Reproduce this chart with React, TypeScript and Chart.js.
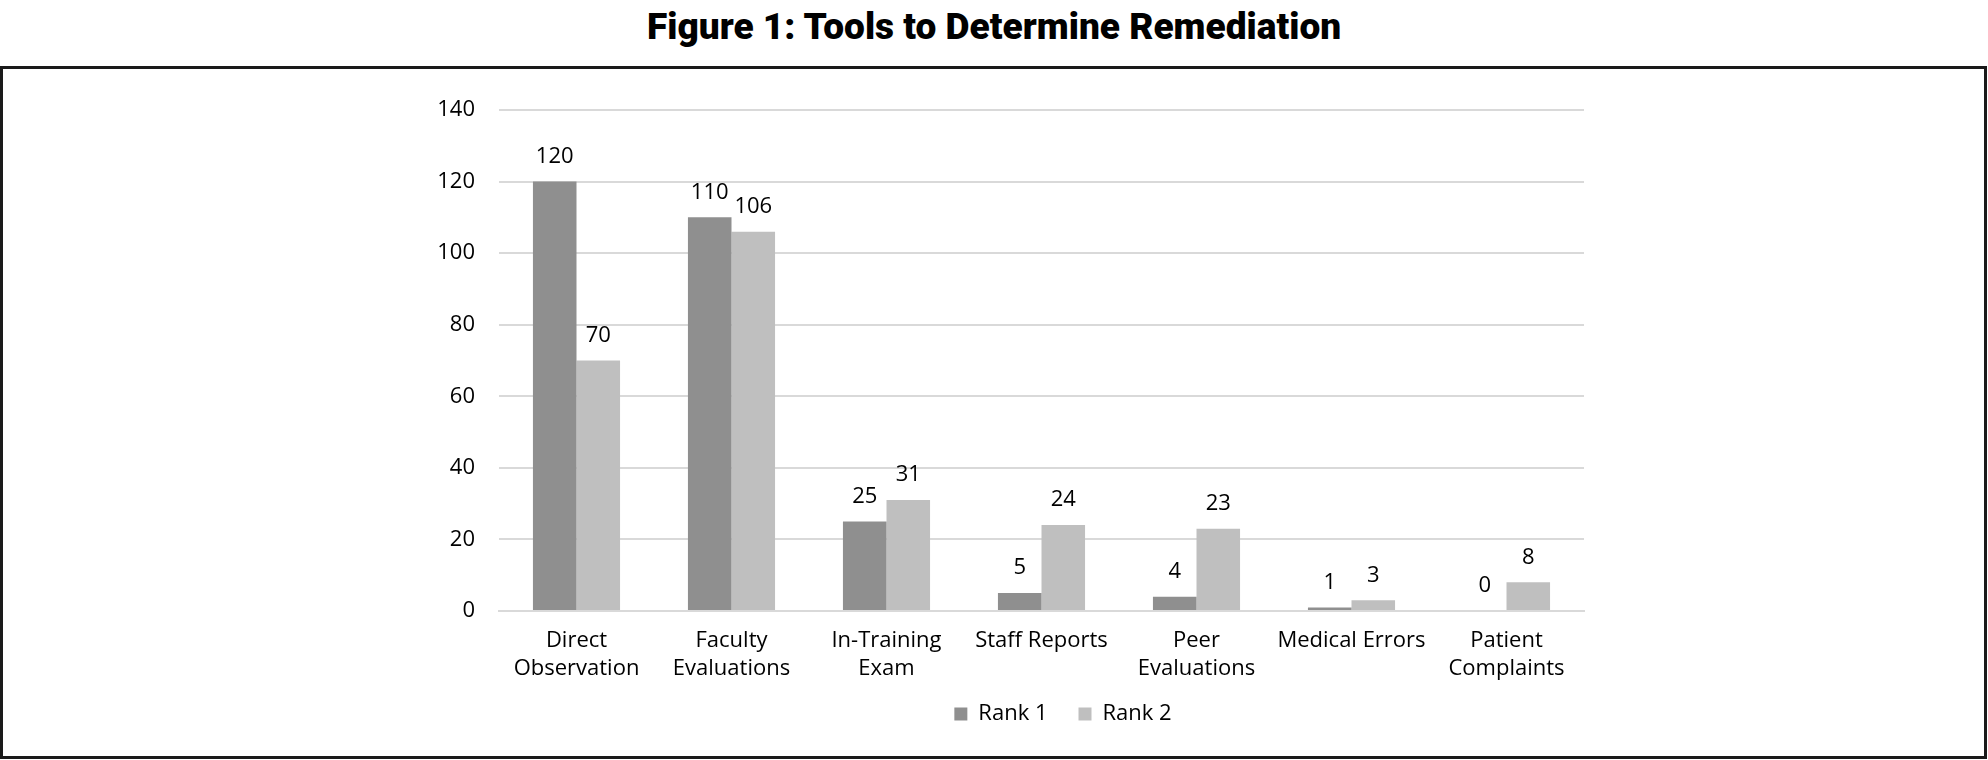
import React, { useEffect, useLayoutEffect, useRef, useState } from 'react';
import { Chart, registerables } from 'chart.js';

Chart.register(...registerables);

const categories: (string | string[])[] = [
  ['Direct', 'Observation'],
  ['Faculty', 'Evaluations'],
  ['In-Training', 'Exam'],
  'Staff Reports',
  ['Peer', 'Evaluations'],
  'Medical Errors',
  ['Patient', 'Complaints'],
];
const seriesNames = ['Rank 1', 'Rank 2'];
const rank1 = [120, 110, 25, 5, 4, 1, 0];
const rank2 = [70, 106, 31, 24, 23, 3, 8];
const yMin = 0;
const yMax = 140;
const yStep = 20;
const titleText = 'Figure 1: Tools to Determine Remediation';

const FONT = '"Open Sans", "Noto Sans", sans-serif';
const FONT_SIZE = 22;

const valueLabels = {
  id: 'valueLabels',
  afterDatasetsDraw(chart: any) {
    const ctx = chart.ctx;
    ctx.save();
    ctx.font = `${FONT_SIZE}px ${FONT}`;
    ctx.fillStyle = '#000';
    ctx.textAlign = 'center';
    ctx.textBaseline = 'middle';
    chart.data.datasets.forEach((ds: any, i: number) => {
      const meta = chart.getDatasetMeta(i);
      meta.data.forEach((el: any, j: number) => {
        ctx.fillText(String(ds.data[j]), el.x, el.y - 25);
      });
    });
    ctx.restore();
  },
};

export default function App() {
  const canvasRef = useRef<HTMLCanvasElement>(null);
  const titleRef = useRef<HTMLSpanElement>(null);
  const [sx, setSx] = useState(1);

  useLayoutEffect(() => {
    if (titleRef.current) {
      const w = titleRef.current.offsetWidth;
      if (w > 0) setSx(694 / w);
    }
  }, []);

  useEffect(() => {
    if (!canvasRef.current) return;
    const chart = new Chart(canvasRef.current, {
      type: 'bar',
      data: {
        labels: categories as any,
        datasets: [
          {
            label: seriesNames[0],
            data: rank1,
            backgroundColor: '#8f8f8f',
            borderWidth: 0,
            categoryPercentage: 0.562,
            barPercentage: 1,
          },
          {
            label: seriesNames[1],
            data: rank2,
            backgroundColor: '#bfbfbf',
            borderWidth: 0,
            categoryPercentage: 0.562,
            barPercentage: 1,
          },
        ],
      },
      options: {
        responsive: false,
        animation: false,
        layout: { padding: { top: 40, bottom: 19, left: 0, right: 0 } },
        plugins: {
          title: { display: false },
          tooltip: { enabled: false },
          legend: {
            display: true,
            position: 'bottom',
            labels: {
              boxWidth: 13,
              boxHeight: 13,
              padding: 31,
              color: '#000',
              font: { family: FONT, size: FONT_SIZE },
            },
          },
        },
        scales: {
          x: {
            grid: { display: false, drawTicks: false },
            border: { display: true, color: '#d9d9d9', width: 2 },
            ticks: {
              color: '#000',
              font: { family: FONT, size: FONT_SIZE, lineHeight: 1.27 },
              padding: 16,
              maxRotation: 0,
              autoSkip: false,
            },
            afterFit: (s: any) => {
              s.height = 61;
              s._computeLabelArea = () => undefined;
            },
          },
          y: {
            min: yMin,
            max: yMax,
            grid: { color: '#d9d9d9', lineWidth: 2, drawTicks: false },
            border: { display: false },
            ticks: {
              stepSize: yStep,
              color: '#000',
              font: { family: FONT, size: FONT_SIZE },
              padding: 24,
            },
            afterFit: (s: any) => {
              s.width = 199;
            },
          },
          y2: {
            position: 'right',
            min: yMin,
            max: yMax,
            grid: { display: false, drawTicks: false },
            border: { display: false },
            ticks: { display: false },
            afterFit: (s: any) => {
              s.width = 242;
            },
          },
        },
      } as any,
      plugins: [valueLabels],
    });
    return () => chart.destroy();
  }, []);

  return (
    <div style={{ position: 'absolute', left: 0, top: 0, width: 1988, height: 760, background: '#fff' }}>
      <div
        style={{
          position: 'absolute',
          left: 0,
          top: 9,
          width: 1988,
          textAlign: 'center',
          fontFamily: 'Roboto, "Liberation Sans", sans-serif',
          fontWeight: 900,
          fontSize: 36,
          lineHeight: '36px',
          color: '#000',
          whiteSpace: 'nowrap',
        }}
      >
        <span
          ref={titleRef}
          style={{ display: 'inline-block', transform: `scaleX(${sx})`, transformOrigin: 'center' }}
        >
          {titleText}
        </span>
      </div>
      <div
        style={{
          position: 'absolute',
          left: 0,
          top: 66,
          width: 1987,
          height: 693,
          border: '3px solid #1a1a1a',
          boxSizing: 'border-box',
        }}
      />
      <canvas
        ref={canvasRef}
        width={1526}
        height={684}
        style={{ position: 'absolute', left: 300, top: 70, width: 1526, height: 684 }}
      />
    </div>
  );
}
